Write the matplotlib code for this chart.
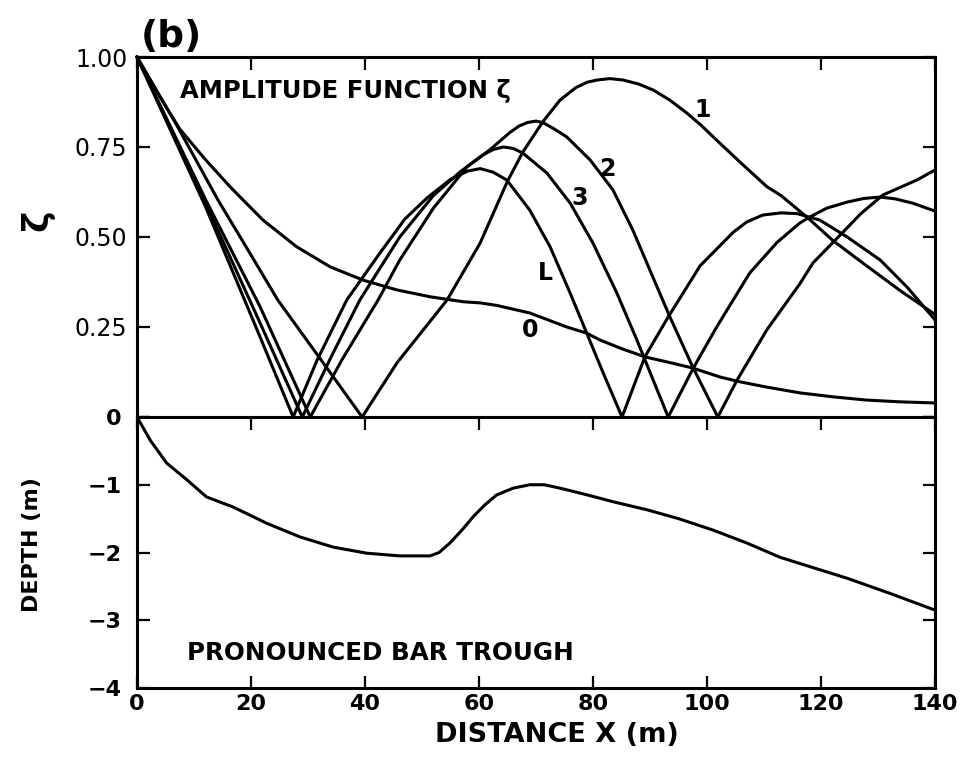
import matplotlib.pyplot as plt

# amplitude function zeta(x) for each mode, and bottom profile
x_0 = [0, 4, 7.5, 12, 16.3, 18.6, 22.1, 28, 33.9, 39.7, 45.6, 51.4, 57.3, 60.2, 63.1,
       68.9, 75.4, 78.9, 81.2, 85, 89.1, 93, 97.5, 102.3, 106, 110.5, 116.3, 122.1,
       128, 134, 140]
zeta_0 = [1.0, 0.89, 0.80, 0.715, 0.64, 0.603, 0.547, 0.473, 0.417, 0.38, 0.353, 0.334,
          0.32, 0.317, 0.31, 0.289, 0.25, 0.233, 0.214, 0.19, 0.167, 0.153, 0.136, 0.111,
          0.097, 0.083, 0.067, 0.056, 0.047, 0.042, 0.039]

x_1 = [0, 7, 14.2, 20, 24.7, 32, 39.5, 45.6, 54.4, 60.2, 65, 67.7, 71.2, 74.2, 77, 79,
       80.7, 83, 85.3, 88, 90.6, 93.5, 96.5, 99, 101.7, 106, 110.5, 113, 117.7, 122.1,
       128, 134, 140]
zeta_1 = [1.0, 0.81, 0.603, 0.45, 0.325, 0.165, 0.0, 0.15, 0.325, 0.483, 0.655, 0.736,
          0.82, 0.88, 0.915, 0.93, 0.936, 0.94, 0.936, 0.925, 0.908, 0.88, 0.844, 0.81,
          0.769, 0.705, 0.64, 0.615, 0.553, 0.49, 0.42, 0.35, 0.285]

x_2 = [0, 12, 21.6, 30.4, 36, 42.3, 46.1, 52, 57.9, 61.9, 65.4, 67, 68.5, 70, 71.2, 73,
       75.4, 79.5, 83.5, 87, 90.5, 93.5, 97.5, 101.9, 105.3, 110.5, 116.3, 118.6, 123.9,
       127, 130.9, 136.8, 140]
zeta_2 = [1.0, 0.605, 0.306, 0.0, 0.16, 0.325, 0.436, 0.58, 0.695, 0.742, 0.79, 0.808,
          0.818, 0.822, 0.818, 0.802, 0.778, 0.714, 0.631, 0.519, 0.389, 0.278, 0.139,
          0.0, 0.103, 0.242, 0.37, 0.428, 0.514, 0.565, 0.617, 0.658, 0.686]

x_3 = [0, 12, 21.6, 29.0, 34, 39.1, 46.1, 52, 56.7, 60.7, 62.5, 64.3, 66, 67.7, 71.9,
       76, 80, 84.2, 87.7, 93.2, 97.5, 101.7, 107.5, 112.3, 116.3, 118.1, 121, 124.6,
       127.5, 130.4, 133, 136.1, 140]
zeta_3 = [1.0, 0.595, 0.261, 0.0, 0.165, 0.325, 0.5, 0.615, 0.681, 0.728, 0.743, 0.75,
          0.746, 0.733, 0.678, 0.594, 0.483, 0.344, 0.214, 0.0, 0.133, 0.25, 0.4, 0.485,
          0.539, 0.556, 0.58, 0.597, 0.607, 0.611, 0.606, 0.594, 0.572]

x_L = [0, 12, 21.6, 27.4, 31.6, 36.8, 42.6, 47, 51, 55, 58, 60.2, 62.5, 64.9, 68.9,
       72.5, 76, 78.9, 81.8, 85.1, 89.1, 93.2, 98.8, 104.6, 107, 109.8, 113, 115.8,
       119.8, 124.6, 130.4, 135.1, 140]
zeta_L = [1.0, 0.585, 0.222, 0.0, 0.158, 0.325, 0.455, 0.55, 0.61, 0.66, 0.683, 0.69,
          0.68, 0.658, 0.575, 0.472, 0.344, 0.233, 0.122, 0.0, 0.167, 0.278, 0.42, 0.513,
          0.542, 0.561, 0.567, 0.565, 0.547, 0.5, 0.436, 0.361, 0.27]

x_depth = [0, 2.3, 5.2, 8.8, 12.2, 16.9, 22.8, 28.6, 34.4, 40.3, 46.1, 51.4, 53, 54.9,
           57, 59, 61, 63.1, 66, 68.9, 71.5, 74.7, 79, 83.5, 89.5, 95, 101.1, 107,
           112.8, 118.5, 124.6, 132, 140]
depth = [0, -0.34, -0.68, -0.93, -1.18, -1.33, -1.57, -1.77, -1.92, -2.01, -2.05, -2.05,
         -2.0, -1.86, -1.67, -1.47, -1.3, -1.15, -1.05, -1.0, -1.0, -1.06, -1.15, -1.25,
         -1.37, -1.5, -1.67, -1.86, -2.07, -2.22, -2.38, -2.6, -2.85]

# curve labels: (text, x, zeta)
curve_labels = [("1", 99.3, 0.853), ("2", 82.5, 0.69), ("3", 77.7, 0.608),
                ("L", 71.6, 0.40), ("0", 69.0, 0.242)]

x_ticks = [0, 20, 40, 60, 80, 100, 120, 140]
zeta_ticks = [0, 0.25, 0.5, 0.75, 1.0]
zeta_ticklabels = ["", "0.25", "0.50", "0.75", "1.00"]
depth_ticks = [-4, -3, -2, -1, 0]
depth_ticklabels = ["\u22124", "\u22123", "\u22122", "\u22121", "0"]

plt.rcParams['font.family'] = ['DejaVu Sans']
lw = 2.2

fig = plt.figure(figsize=(9.73, 7.59), dpi=100)
ax1 = fig.add_axes([0.1408, 0.4506, 0.8201, 0.4743])
ax2 = fig.add_axes([0.1408, 0.0935, 0.8201, 0.3571])

for xs, zs in [(x_0, zeta_0), (x_1, zeta_1), (x_2, zeta_2), (x_3, zeta_3), (x_L, zeta_L)]:
    ax1.plot(xs, zs, color='black', lw=lw, solid_joinstyle='round', clip_on=False)

for txt, tx, ty in curve_labels:
    ax1.text(tx, ty, txt, fontsize=17, fontweight='bold', ha='center', va='center')

ax1.text(7.5, 0.905, "AMPLITUDE FUNCTION \u03b6", fontsize=17.5, fontweight='bold',
         ha='left', va='center')
ax1.text(0.005, 1.005, "(b)", transform=ax1.transAxes, fontsize=27, fontweight='bold',
         ha='left', va='bottom')

ax1.set_xlim(0, 140)
ax1.set_ylim(0, 1.0)
ax1.set_xticks(x_ticks)
ax1.set_yticks(zeta_ticks)
ax1.set_yticklabels(zeta_ticklabels, fontsize=17)
ax1.tick_params(axis='x', bottom=False, top=True, direction='in', length=9, width=1.6,
                labelbottom=False)
ax1.tick_params(axis='y', left=True, right=True, direction='in', length=9, width=1.6,
                pad=7)
ax1.set_ylabel("\u03b6", fontsize=26, fontweight='bold', rotation=90)
ax1.yaxis.set_label_coords(-0.103, 0.547)

ax2.plot(x_depth, depth, color='black', lw=lw, solid_joinstyle='round')
ax2.text(8.8, -3.49, "PRONOUNCED BAR TROUGH", fontsize=17.7, fontweight='bold',
         ha='left', va='center')

ax2.set_xlim(0, 140)
ax2.set_ylim(-4, 0)
ax2.set_xticks(x_ticks)
ax2.set_xticklabels([str(v) for v in x_ticks], fontsize=16, fontweight='bold')
ax2.set_yticks(depth_ticks)
ax2.set_yticklabels(depth_ticklabels, fontsize=16, fontweight='bold')
ax2.tick_params(axis='x', bottom=True, top=True, direction='in', length=9, width=1.6,
                pad=4)
ax2.tick_params(axis='y', left=True, right=True, direction='in', length=9, width=1.6,
                pad=11)
ax2.set_xlabel("DISTANCE X (m)", fontsize=19.5, fontweight='bold')
ax2.xaxis.set_label_coords(0.526, -0.125)
ax2.set_ylabel("DEPTH (m)", fontsize=16, fontweight='bold')
ax2.yaxis.set_label_coords(-0.119, 0.53)

for ax in (ax1, ax2):
    for sp in ax.spines.values():
        sp.set_linewidth(2.2)

fig.savefig("out.png", dpi=100)
